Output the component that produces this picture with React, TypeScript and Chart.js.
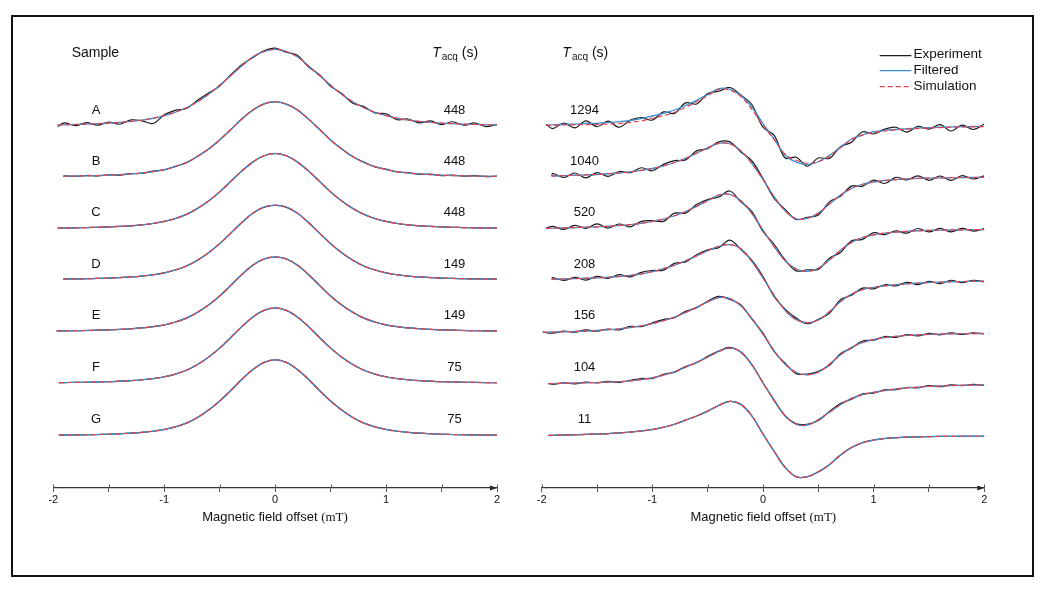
import React, { useEffect, useRef } from 'react';
import { Chart, registerables } from 'chart.js';

Chart.register(...registerables);

// ---------------- data ----------------
const FIELD_MT = [-2.0, -1.9, -1.8, -1.7, -1.6, -1.5, -1.4, -1.3, -1.2, -1.1, -1.0, -0.9, -0.8, -0.7, -0.6, -0.5, -0.4, -0.3, -0.2, -0.1, 0.0,
  0.1, 0.2, 0.3, 0.4, 0.5, 0.6, 0.7, 0.8, 0.9, 1.0, 1.1, 1.2, 1.3, 1.4, 1.5, 1.6, 1.7, 1.8, 1.9, 2.0];

const SAMPLE_NAMES = ['A', 'B', 'C', 'D', 'E', 'F', 'G'];
const SAMPLE_TACQ = ['448', '448', '448', '149', '149', '75', '75'];
const LEFT_OFFSETS = [4.13, 3.45, 2.76, 2.08, 1.39, 0.70, 0];
const LEFT_START = [-1.96, -1.91, -1.96, -1.91, -1.97, -1.95, -1.95];

const SIM_A = [0.010, 0.013, 0.017, 0.022, 0.028, 0.035, 0.045, 0.058, 0.075, 0.100, 0.135, 0.180, 0.240, 0.320, 0.420, 0.540, 0.670, 0.800, 0.920, 0.990, 1.020,
  0.990, 0.920, 0.800, 0.670, 0.540, 0.420, 0.320, 0.240, 0.180, 0.135, 0.100, 0.075, 0.058, 0.045, 0.035, 0.028, 0.022, 0.017, 0.013, 0.010];
const SIM_B = [0.005, 0.007, 0.009, 0.012, 0.016, 0.021, 0.028, 0.037, 0.050, 0.068, 0.095, 0.135, 0.190, 0.270, 0.370, 0.490, 0.630, 0.770, 0.890, 0.970, 1.000,
  0.970, 0.890, 0.770, 0.630, 0.490, 0.370, 0.270, 0.190, 0.135, 0.095, 0.068, 0.050, 0.037, 0.028, 0.021, 0.016, 0.012, 0.009, 0.007, 0.005];
const SIM_C = [0.005, 0.007, 0.009, 0.012, 0.016, 0.021, 0.028, 0.036, 0.049, 0.067, 0.094, 0.133, 0.188, 0.268, 0.368, 0.488, 0.628, 0.768, 0.888, 0.970, 1.000,
  0.970, 0.888, 0.768, 0.628, 0.488, 0.368, 0.268, 0.188, 0.133, 0.094, 0.067, 0.049, 0.036, 0.028, 0.021, 0.016, 0.012, 0.009, 0.007, 0.005];
const SIM_D = [0.005, 0.006, 0.008, 0.011, 0.015, 0.019, 0.026, 0.034, 0.046, 0.063, 0.089, 0.127, 0.180, 0.258, 0.358, 0.478, 0.618, 0.760, 0.885, 0.965, 0.990,
  0.965, 0.885, 0.760, 0.618, 0.478, 0.358, 0.258, 0.180, 0.127, 0.089, 0.063, 0.046, 0.034, 0.026, 0.019, 0.015, 0.011, 0.008, 0.006, 0.005];
const SIM_E = [0.005, 0.006, 0.008, 0.010, 0.014, 0.018, 0.025, 0.033, 0.044, 0.061, 0.086, 0.123, 0.175, 0.252, 0.350, 0.470, 0.612, 0.756, 0.882, 0.964, 0.990,
  0.964, 0.882, 0.756, 0.612, 0.470, 0.350, 0.252, 0.175, 0.123, 0.086, 0.061, 0.044, 0.033, 0.025, 0.018, 0.014, 0.010, 0.008, 0.006, 0.005];
const SIM_F = [0.005, 0.006, 0.008, 0.010, 0.013, 0.017, 0.024, 0.032, 0.043, 0.059, 0.083, 0.119, 0.170, 0.246, 0.345, 0.465, 0.606, 0.752, 0.880, 0.968, 1.000,
  0.968, 0.880, 0.752, 0.606, 0.465, 0.345, 0.246, 0.170, 0.119, 0.083, 0.059, 0.043, 0.032, 0.024, 0.017, 0.013, 0.010, 0.008, 0.006, 0.005];
const SIM_G = [0.005, 0.006, 0.008, 0.010, 0.013, 0.017, 0.023, 0.031, 0.042, 0.057, 0.080, 0.115, 0.165, 0.240, 0.340, 0.460, 0.600, 0.750, 0.880, 0.975, 1.010,
  0.975, 0.880, 0.750, 0.600, 0.460, 0.340, 0.240, 0.165, 0.115, 0.080, 0.057, 0.042, 0.031, 0.023, 0.017, 0.013, 0.010, 0.008, 0.006, 0.005];

const NOISE_A = [-0.020, 0.025, -0.015, 0.020, -0.020, 0.015, -0.025, 0.020, -0.010, -0.070, 0.010, 0.025, -0.010, 0.020, 0.015, -0.010, 0.010, 0.015, -0.010, 0.010, 0.015,
  -0.010, 0.020, -0.015, 0.010, -0.015, 0.010, -0.020, 0.015, -0.010, 0.025, -0.020, 0.015, -0.020, 0.020, -0.020, 0.025, -0.015, 0.020, -0.025, 0.010];
const NOISE_B = [0.000, 0.006, -0.004, 0.005, -0.005, 0.004, -0.006, 0.005, -0.004, 0.006, -0.003, 0.004, -0.002, 0.003, 0.000, 0.002, -0.002, 0.003, 0.000, 0.002, 0.000,
  -0.002, 0.003, -0.002, 0.004, -0.002, 0.003, -0.004, 0.005, -0.004, 0.006, -0.005, 0.004, -0.006, 0.008, -0.005, 0.006, -0.004, 0.005, -0.005, 0.004];

const RIGHT_TACQ = ['1294', '1040', '520', '208', '156', '104', '11'];
const RIGHT_OFFSETS = [8.27, 6.91, 5.52, 4.16, 2.75, 1.38, 0];
const RIGHT_START = [-1.96, -1.91, -1.96, -1.91, -1.99, -1.94, -1.94];

const SIM_1294 = [0.000, 0.005, 0.010, 0.015, 0.020, 0.025, 0.035, 0.050, 0.080, 0.120, 0.190, 0.260, 0.350, 0.480, 0.630, 0.790, 0.960, 0.940, 0.770, 0.420, 0.000,
  -0.380, -0.770, -0.930, -1.010, -0.970, -0.820, -0.600, -0.380, -0.260, -0.190, -0.150, -0.120, -0.100, -0.085, -0.070, -0.060, -0.050, -0.045, -0.040, -0.035];
const SIM_1040 = [0.000, 0.010, 0.020, 0.030, 0.040, 0.050, 0.070, 0.090, 0.120, 0.160, 0.210, 0.280, 0.370, 0.480, 0.620, 0.760, 0.880, 0.870, 0.680, 0.340, -0.080,
  -0.540, -0.920, -1.130, -1.120, -0.980, -0.740, -0.500, -0.320, -0.210, -0.150, -0.110, -0.085, -0.065, -0.055, -0.045, -0.040, -0.035, -0.030, -0.030, -0.025];
const SIM_520 = [0.000, 0.008, 0.016, 0.025, 0.035, 0.045, 0.060, 0.080, 0.105, 0.140, 0.190, 0.250, 0.340, 0.450, 0.590, 0.740, 0.890, 0.910, 0.740, 0.400, -0.040,
  -0.480, -0.860, -1.080, -1.140, -1.060, -0.840, -0.580, -0.370, -0.240, -0.170, -0.125, -0.095, -0.075, -0.060, -0.050, -0.045, -0.040, -0.035, -0.030, -0.030];
const SIM_208 = [0.000, 0.008, 0.016, 0.025, 0.035, 0.045, 0.060, 0.080, 0.110, 0.150, 0.210, 0.290, 0.380, 0.500, 0.630, 0.770, 0.880, 0.930, 0.820, 0.480, 0.040,
  -0.420, -0.820, -1.070, -1.150, -1.080, -0.860, -0.590, -0.390, -0.270, -0.210, -0.170, -0.140, -0.115, -0.095, -0.080, -0.070, -0.060, -0.055, -0.050, -0.045];
const SIM_156 = [0.000, 0.008, 0.016, 0.025, 0.035, 0.050, 0.070, 0.095, 0.130, 0.175, 0.235, 0.310, 0.410, 0.530, 0.670, 0.810, 0.930, 0.900, 0.710, 0.370, -0.050,
  -0.490, -0.850, -1.070, -1.130, -1.060, -0.850, -0.600, -0.400, -0.270, -0.190, -0.140, -0.105, -0.080, -0.065, -0.055, -0.045, -0.040, -0.035, -0.035, -0.030];
const SIM_104 = [0.000, 0.006, 0.012, 0.018, 0.025, 0.032, 0.042, 0.056, 0.078, 0.110, 0.160, 0.230, 0.320, 0.440, 0.570, 0.710, 0.860, 0.950, 0.850, 0.500, 0.030,
  -0.450, -0.850, -1.080, -1.100, -0.960, -0.760, -0.560, -0.390, -0.290, -0.230, -0.180, -0.140, -0.110, -0.090, -0.070, -0.060, -0.050, -0.040, -0.035, -0.030];
const SIM_11 = [0.000, 0.005, 0.010, 0.020, 0.030, 0.040, 0.050, 0.070, 0.090, 0.120, 0.160, 0.220, 0.300, 0.410, 0.520, 0.650, 0.800, 0.910, 0.830, 0.520, 0.040,
  -0.420, -0.850, -1.100, -1.100, -0.970, -0.780, -0.520, -0.320, -0.190, -0.120, -0.080, -0.060, -0.045, -0.035, -0.030, -0.025, -0.025, -0.020, -0.020, -0.020];

const NOISE_1294 = [0.03, -0.09, 0.05, -0.08, 0.10, -0.06, 0.08, -0.10, 0.06, 0.09, -0.05, 0.10, -0.03, 0.12, -0.06, 0.06, -0.05, 0.07, 0.04, 0.13, -0.05,
  0.12, -0.10, 0.08, -0.08, 0.10, -0.06, 0.03, -0.07, 0.09, -0.04, 0.05, 0.07, -0.08, 0.06, -0.03, 0.08, -0.10, 0.05, -0.07, 0.07];
const NOISE_1040 = [0.02, 0.07, -0.05, 0.06, -0.08, 0.05, -0.07, 0.04, -0.02, 0.07, -0.06, 0.04, 0.05, -0.04, 0.06, -0.02, 0.04, 0.05, -0.03, 0.07, 0.02,
  -0.04, 0.04, -0.02, 0.03, -0.05, 0.06, -0.03, 0.06, -0.05, 0.05, -0.08, 0.06, -0.03, 0.07, -0.06, 0.05, -0.07, 0.05, -0.04, 0.04];
const NOISE_520 = [0.01, 0.05, -0.04, 0.06, -0.03, 0.08, -0.05, 0.04, -0.06, 0.05, 0.02, -0.06, 0.07, -0.04, 0.05, 0.03, -0.05, 0.09, -0.03, 0.05, -0.04,
  0.06, 0.02, -0.05, 0.04, -0.03, 0.05, -0.06, 0.04, -0.05, 0.06, -0.04, 0.03, -0.05, 0.06, -0.04, 0.05, -0.05, 0.04, -0.04, 0.03];
const NOISE_208 = [0.03, 0.04, -0.04, 0.03, -0.05, 0.04, -0.03, 0.05, -0.04, 0.04, 0.03, -0.04, 0.05, -0.03, 0.03, 0.02, -0.03, 0.12, -0.02, 0.03, 0.04,
  -0.03, 0.03, 0.04, -0.03, 0.02, -0.04, 0.05, -0.03, 0.04, -0.04, 0.03, -0.03, 0.04, -0.04, 0.03, -0.04, 0.04, -0.03, 0.03, -0.02];
const NOISE_156 = [0.01, -0.03, 0.02, -0.02, 0.03, -0.02, 0.02, -0.03, 0.03, -0.02, 0.02, 0.03, -0.02, 0.03, -0.01, 0.02, 0.03, -0.02, 0.02, -0.02, 0.03,
  -0.02, 0.03, -0.03, 0.02, 0.02, -0.03, 0.03, -0.02, 0.04, -0.02, 0.03, -0.03, 0.02, -0.03, 0.03, -0.02, 0.03, -0.02, 0.02, -0.01];
const NOISE_104 = [0.01, -0.02, 0.01, -0.02, 0.02, -0.01, 0.02, -0.02, 0.01, 0.03, -0.02, 0.02, -0.01, 0.02, -0.01, 0.02, 0.01, 0.02, -0.01, 0.01, -0.01,
  0.02, -0.01, 0.01, 0.02, -0.02, 0.02, 0.03, -0.02, 0.02, -0.02, 0.02, -0.02, 0.01, -0.02, 0.02, -0.02, 0.02, -0.01, 0.02, -0.01];
const FILT_DEV_1294 = [0.00, 0.01, 0.02, 0.02, 0.03, 0.03, 0.04, 0.05, 0.05, 0.06, 0.06, 0.06, 0.06, 0.05, 0.04, 0.03, 0.02, 0.02, 0.03, 0.06, 0.05,
  0.02, -0.02, -0.05, -0.03, 0.00, 0.02, 0.02, 0.01, 0.01, 0.02, 0.02, 0.01, 0.01, 0.01, 0.01, 0.01, 0.01, 0.01, 0.01, 0.01];

const LEFT_SIMS = [SIM_A, SIM_B, SIM_C, SIM_D, SIM_E, SIM_F, SIM_G];
const LEFT_NOISES = [NOISE_A, NOISE_B, null, null, null, null, null];
const RIGHT_SIMS = [SIM_1294, SIM_1040, SIM_520, SIM_208, SIM_156, SIM_104, SIM_11];
const RIGHT_NOISES = [NOISE_1294, NOISE_1040, NOISE_520, NOISE_208, NOISE_156, NOISE_104, null];
const RIGHT_FILT_DEVS = [FILT_DEV_1294, null, null, null, null, null, null];

const LEGEND_LABELS = ['Experiment', 'Filtered', 'Simulation'];

// ---------------- styles ----------------
const COLOR_EXP = '#1c1c1c';
const COLOR_FILT = '#3a8fd4';
const COLOR_SIM = '#e8414b';
const DASH_SIM = [5, 3];
const FONT = '"Liberation Sans", Arial, Helvetica, sans-serif';

type Pt = { x: number; y: number };

function series(start: number, offset: number, base: number[], dev: number[] | null): Pt[] {
  return FIELD_MT.map((x, i) => ({ x: i === 0 ? start : x, y: offset + base[i] + (dev ? dev[i] : 0) }));
}

function buildDatasets(sims: number[][], noises: (number[] | null)[], filts: (number[] | null)[], offsets: number[], starts: number[]) {
  const ds: any[] = [];
  sims.forEach((sim, k) => {
    ds.push({
      label: 'Experiment', data: series(starts[k], offsets[k], sim, noises[k]),
      borderColor: COLOR_EXP, borderWidth: 1.2, order: 3, tension: 0.35, pointRadius: 0, fill: false,
    });
    ds.push({
      label: 'Filtered', data: series(starts[k], offsets[k], sim, filts[k]),
      borderColor: COLOR_FILT, borderWidth: 1.3, order: 2, tension: 0.35, pointRadius: 0, fill: false,
    });
    ds.push({
      label: 'Simulation', data: series(starts[k], offsets[k], sim, null),
      borderColor: COLOR_SIM, borderWidth: 1.2, borderDash: DASH_SIM, order: 1, tension: 0.35, pointRadius: 0, fill: false,
    });
  });
  return ds;
}

const axisDecor = {
  id: 'axisDecor',
  afterDraw(chart: any) {
    const { ctx, chartArea } = chart;
    const x = chart.scales.x;
    const y0 = chartArea.bottom;
    ctx.save();
    ctx.strokeStyle = '#555';
    ctx.lineWidth = 1;
    x.ticks.forEach((t: any) => {
      const px = Math.round(x.getPixelForValue(t.value)) + 0.5;
      ctx.beginPath();
      ctx.moveTo(px, y0 - 3.5);
      ctx.lineTo(px, y0);
      ctx.stroke();
    });
    const xe = x.getPixelForValue(x.max);
    ctx.fillStyle = '#222';
    ctx.beginPath();
    ctx.moveTo(xe, y0);
    ctx.lineTo(xe - 7, y0 - 2.6);
    ctx.lineTo(xe - 7, y0 + 2.6);
    ctx.closePath();
    ctx.fill();
    ctx.restore();
  },
};

const legendLines = {
  id: 'legendLines',
  afterDraw(chart: any, _args: any, opts: any) {
    if (!opts || !opts.show) return;
    const { ctx } = chart;
    const styles = [
      { c: COLOR_EXP, d: [] as number[], y: 55.7 },
      { c: COLOR_FILT, d: [] as number[], y: 70.7 },
      { c: COLOR_SIM, d: DASH_SIM, y: 86.7 },
    ];
    ctx.save();
    styles.forEach((s) => {
      ctx.strokeStyle = s.c;
      ctx.lineWidth = 1.3;
      ctx.setLineDash(s.d);
      ctx.beginPath();
      ctx.moveTo(opts.x0, s.y);
      ctx.lineTo(opts.x1, s.y);
      ctx.stroke();
    });
    ctx.restore();
  },
};

type PanelProps = {
  left: number;
  width: number;
  padLeft: number;
  padRight: number;
  yMin: number;
  yMax: number;
  datasets: any[];
  legend?: { x0: number; x1: number };
};

function Panel({ left, width, padLeft, padRight, yMin, yMax, datasets, legend }: PanelProps) {
  const ref = useRef<HTMLCanvasElement | null>(null);
  useEffect(() => {
    if (!ref.current) return;
    const chart = new Chart(ref.current, {
      type: 'line',
      data: { datasets },
      plugins: [axisDecor, legendLines],
      options: {
        responsive: false,
        animation: false,
        events: [],
        layout: { padding: { left: padLeft, right: padRight, top: 30.5, bottom: 0 } },
        plugins: {
          legend: { display: false },
          tooltip: { enabled: false },
          legendLines: legend ? { show: true, x0: legend.x0, x1: legend.x1 } : { show: false },
        } as any,
        elements: { point: { radius: 0 }, line: { borderJoinStyle: 'round', borderCapStyle: 'butt' } },
        scales: {
          x: {
            type: 'linear',
            min: -2,
            max: 2,
            afterFit: (scale: any) => { scale.height = 102; },
            ticks: {
              stepSize: 0.5,
              autoSkip: false,
              maxRotation: 0,
              minRotation: 0,
              padding: 1,
              color: '#111',
              font: { family: FONT, size: 11 },
              callback: (v: any) => (Number.isInteger(Number(v)) ? String(v) : ''),
            },
            grid: { display: true, drawOnChartArea: false, drawTicks: true, tickLength: 4, color: '#555', lineWidth: 1 },
            border: { display: true, color: '#333', width: 1.3 },
          },
          y: { type: 'linear', display: false, min: yMin, max: yMax },
        },
      } as any,
    });
    return () => chart.destroy();
  }, []);
  return (
    <canvas
      ref={ref}
      width={width}
      height={590}
      style={{ position: 'absolute', left, top: 0, width, height: 590 }}
    />
  );
}

const txt = (x: number, y: number, size: number, content: React.ReactNode, key?: string) => (
  <div
    key={key}
    style={{
      position: 'absolute', left: x, top: y, transform: 'translate(-50%, -50%)',
      fontFamily: FONT, fontSize: size, lineHeight: 1, whiteSpace: 'nowrap', color: '#111',
    }}
  >
    {content}
  </div>
);

const TacqHeader = () => (
  <span>
    <i>T</i>
    <span style={{ fontSize: 10, position: 'relative', top: 3, marginLeft: 1 }}>acq</span> (s)
  </span>
);

const AxisTitle = () => (
  <span>
    Magnetic field offset <span style={{ fontFamily: '"Liberation Serif", "DejaVu Serif", serif' }}>(mT)</span>
  </span>
);

const ROW_Y = [108.7, 159.8, 211.3, 263.2, 314.4, 366.4, 418];

export default function App() {
  const leftData = buildDatasets(LEFT_SIMS, LEFT_NOISES, [null, null, null, null, null, null, null], LEFT_OFFSETS, LEFT_START);
  const rightData = buildDatasets(RIGHT_SIMS, RIGHT_NOISES, RIGHT_FILT_DEVS, RIGHT_OFFSETS, RIGHT_START);
  return (
    <div style={{ position: 'fixed', left: 0, top: 0, width: 1050, height: 590, background: '#fff', overflow: 'hidden' }}>
      <div style={{ position: 'absolute', left: 11, top: 15, width: 1019, height: 558, border: '2px solid #111' }} />
      <Panel left={0} width={525} padLeft={53.3} padRight={28} yMin={-0.7} yMax={5.4} datasets={leftData} />
      <Panel left={525} width={525} padLeft={16.7} padRight={65.7} yMin={-1.4} yMax={10.8} datasets={rightData}
        legend={{ x0: 354.7, x1: 386.3 }} />
      {txt(95.4, 51.7, 14, 'Sample')}
      {txt(455.2, 52, 14, <TacqHeader />)}
      {txt(585.3, 52, 14, <TacqHeader />)}
      {SAMPLE_NAMES.map((n, i) => txt(96, ROW_Y[i], 13, n, 'n' + i))}
      {SAMPLE_TACQ.map((n, i) => txt(454.5, ROW_Y[i], 13, n, 'l' + i))}
      {RIGHT_TACQ.map((n, i) => txt(584.5, ROW_Y[i], 13, n, 'r' + i))}
      {LEGEND_LABELS.map((l, i) => (
        <div key={'lg' + i} style={{ position: 'absolute', left: 913.5, top: [54, 69.5, 85.7][i], transform: 'translateY(-50%)', fontFamily: FONT, fontSize: 13.5, lineHeight: 1, color: '#111', whiteSpace: 'nowrap' }}>{l}</div>
      ))}
      {txt(275, 515.5, 13, <AxisTitle />)}
      {txt(763.3, 515.5, 13, <AxisTitle />)}
    </div>
  );
}
